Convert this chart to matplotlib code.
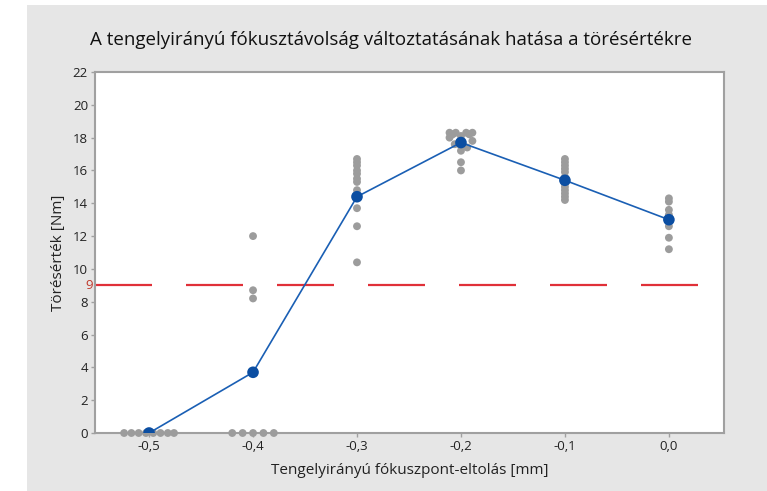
import matplotlib
matplotlib.use("Agg")
import matplotlib.pyplot as plt
from matplotlib.patches import Rectangle

plt.rcParams['font.family'] = ['Open Sans', 'DejaVu Sans']

title = "A tengelyirányú fókusztávolság változtatásának hatása a törésértékre"
xlabel = "Tengelyirányú fókuszpont-eltolás [mm]"
ylabel = "Törésérték [Nm]"

groups = [-0.5, -0.4, -0.3, -0.2, -0.1, 0.0]
group_labels = ["-0,5", "-0,4", "-0,3", "-0,2", "-0,1", "0,0"]
means = [0.0, 3.7, 14.4, 17.7, 15.4, 13.0]

# individual values per group and horizontal jitter (as in the original individual value plot)
vals_m05 = [0, 0, 0, 0, 0, 0, 0, 0]
jit_m05 = [-0.024, -0.017, -0.010, -0.003, 0.004, 0.011, 0.018, 0.024]
vals_m04 = [0, 0, 0, 0, 0, 12.0, 8.7, 8.2]
jit_m04 = [-0.020, -0.010, 0.0, 0.010, 0.020, 0.0, 0.0, 0.0]
vals_m03 = [16.7, 16.5, 16.3, 16.0, 15.8, 15.5, 15.3, 14.8, 14.4, 13.7, 12.6, 10.4]
jit_m03 = [0.0] * 12
vals_m02 = [18.3, 18.3, 18.3, 18.3, 18.2, 18.2, 18.1, 18.0, 17.8, 17.6, 17.4, 17.5, 17.2, 16.5, 16.0]
jit_m02 = [-0.011, -0.005, 0.005, 0.011, -0.008, 0.008, 0.0, -0.011, 0.011, -0.006, 0.006, 0.0, 0.0, 0.0, 0.0]
vals_m01 = [16.7, 16.5, 16.3, 16.1, 15.9, 15.6, 15.4, 15.2, 15.0, 14.8, 14.6, 14.4, 14.2]
jit_m01 = [0.0] * 13
vals_00 = [14.3, 14.1, 13.6, 13.3, 13.0, 12.6, 11.9, 11.2]
jit_00 = [0.0] * 8

all_vals = [vals_m05, vals_m04, vals_m03, vals_m02, vals_m01, vals_00]
all_jit = [jit_m05, jit_m04, jit_m03, jit_m02, jit_m01, jit_00]

threshold = 9
threshold_label = "9"

W, H = 767, 491
fig = plt.figure(figsize=(W / 100, H / 100), dpi=100)
fig.patch.set_facecolor("white")
fig.add_artist(Rectangle((27 / W, 0), 1 - 27 / W, (H - 5) / H, transform=fig.transFigure,
                         facecolor="#e6e6e6", edgecolor="none", zorder=-10))

ax = fig.add_axes([95 / W, 1 - 433 / H, (724 - 95) / W, (433 - 72) / H])
ax.set_facecolor("white")

for g, vals, jit in zip(groups, all_vals, all_jit):
    xs = [g + j for j in jit]
    ax.scatter(xs, vals, s=32, marker="o", color="#9c9c9c", edgecolors="none", zorder=3, clip_on=False)

ax.plot(groups, means, color="#1a5fb4", lw=1.2, zorder=4)
ax.scatter(groups, means, s=70, marker="o", color="#0b4ea2", edgecolors="none", zorder=5)

ax.axhline(threshold, color="#e03038", lw=1.6, dashes=(57 * 0.72 / 1.6, 34 * 0.72 / 1.6), zorder=2)
ax.text(-0.003, threshold, threshold_label, transform=ax.get_yaxis_transform(), color="#c0392b",
        fontsize=9.5, ha="right", va="center", zorder=6)

ax.set_xlim(-0.552, 0.053)
ax.set_ylim(0, 22)
ax.set_xticks(groups)
ax.set_xticklabels(group_labels)
ax.set_yticks(range(0, 23, 2))

for s in ax.spines.values():
    s.set_color("#a0a0a0")
    s.set_linewidth(1.5)
ax.tick_params(colors="#a0a0a0", labelcolor="#222222", labelsize=9.5, length=3, width=1, pad=2)

fig.text(391 / W, 1 - 40 / H, title, fontsize=13.5, color="#111111", ha="center", va="center")
ax.set_xlabel(xlabel, fontsize=11, color="#222222", labelpad=7)
ax.set_ylabel(ylabel, fontsize=11, color="#222222", labelpad=5)

fig.savefig("out.png", dpi=100)
